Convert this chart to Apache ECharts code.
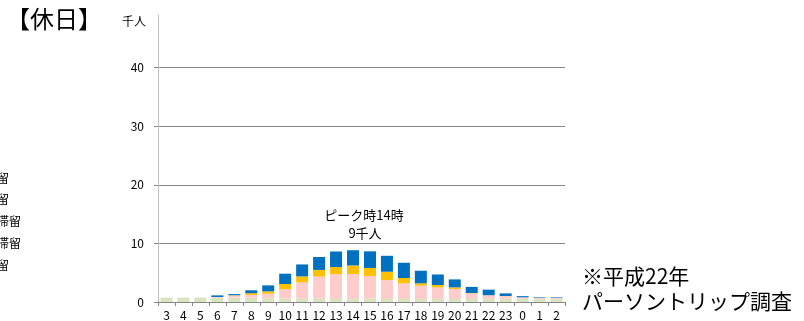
<!DOCTYPE html>
<html>
<head>
<meta charset="utf-8">
<script src="https://cdn.jsdelivr.net/npm/echarts@6/dist/echarts.min.js"></script>
<style>
html,body{margin:0;padding:0;background:#fff;}
#c{width:804px;height:321px;}
</style>
</head>
<body>
<div id="c"></div>
<script>
const categories = ['3','4','5','6','7','8','9','10','11','12','13','14','15','16','17','18','19','20','21','22','23','0','1','2'];
const greenValues  = [0.75,0.75,0.75,0.75,0.75,0.70,0.62,0.57,0.57,0.55,0.52,0.52,0.55,0.52,0.52,0.52,0.52,0.52,0.52,0.52,0.55,0.55,0.55,0.55];
const pinkValues   = [0,0,0,0.10,0.35,0.50,0.80,1.60,2.78,3.80,4.25,4.25,3.90,3.23,2.67,2.27,1.98,1.70,0.96,0.62,0.45,0.25,0.15,0.15];
const yellowValues = [0,0,0,0,0.05,0.30,0.40,0.90,1.02,1.13,1.19,1.47,1.36,1.42,0.91,0.40,0.40,0.28,0.05,0.02,0.02,0,0,0];
const blueValues   = [0,0,0,0.28,0.20,0.50,1.02,1.76,2.04,2.20,2.66,2.60,2.84,2.72,2.60,2.15,1.80,1.36,1.05,0.95,0.45,0.20,0.10,0.10];
const yTicks = [0,10,20,30,40];
const legendNames = ['自宅滞留','通学滞留','勤務先滞留','業務先滞留','私事滞留'];
const seriesNames = ['自宅滞留','私事滞留','業務先滞留','勤務先滞留'];

const FONT = '"Noto Sans CJK JP", "Noto Sans", sans-serif';
const chart = echarts.init(document.getElementById('c'), null, {renderer:'canvas'});

function bar(name, data, color){
  return {
    name, type:'bar', stack:'all', data,
    barWidth: 12,
    itemStyle:{color},
    emphasis:{disabled:true},
    animation:false
  };
}

const legendGraphics = legendNames.map((t,i)=>({
  type:'text', left:-39, top:172 + i*21.8,
  style:{text:t, font:'12px '+FONT, fill:'#000'}
}));

chart.setOption({
  animation:false,
  grid:{left:158, right:239, top:15, bottom:19, containLabel:false},
  xAxis:{
    type:'category', data:categories,
    axisLine:{lineStyle:{color:'#868686', width:1}},
    axisTick:{show:true, alignWithLabel:false, length:4, lineStyle:{color:'#868686'}},
    axisLabel:{color:'#000', fontSize:12, fontFamily:FONT, margin:7, interval:0}
  },
  yAxis:{
    type:'value', min:0, max:49, interval:10,
    axisLine:{show:true, lineStyle:{color:'#bfbfbf', width:1}},
    axisTick:{show:true, length:4, lineStyle:{color:'#868686'}},
    axisLabel:{color:'#000', fontSize:12, fontFamily:FONT, margin:14,
      showMaxLabel:false,
      formatter:v => yTicks.includes(v) ? String(v) : ''},
    splitLine:{show:true, showMinLine:false, showMaxLine:false, lineStyle:{color:'#868686', width:1}}
  },
  series:[
    bar(seriesNames[0], greenValues, '#d7e4bd'),
    bar(seriesNames[1], pinkValues, '#ffcccc'),
    bar(seriesNames[2], yellowValues, '#ffc000'),
    bar(seriesNames[3], blueValues, '#0070c0')
  ],
  graphic:[
    {type:'text', left:6, top:7, style:{text:'【休日】', font:'24px '+FONT, fill:'#000'}},
    {type:'text', left:122, top:15, style:{text:'千人', font:'12px '+FONT, fill:'#000'}},
    {type:'text', x:364, y:215, style:{text:'ピーク時14時', font:'13px '+FONT, fill:'#000', align:'center', verticalAlign:'middle'}},
    {type:'text', x:365, y:233, style:{text:'9千人', font:'13px '+FONT, fill:'#000', align:'center', verticalAlign:'middle'}},
    {type:'text', x:582, y:276, style:{text:'※平成22年', font:'21px '+FONT, fill:'#000', align:'left', verticalAlign:'middle'}},
    {type:'text', x:582, y:301, style:{text:'パーソントリップ調査', font:'21px '+FONT, fill:'#000', align:'left', verticalAlign:'middle'}}
  ].concat(legendGraphics)
});
</script>
</body>
</html>
